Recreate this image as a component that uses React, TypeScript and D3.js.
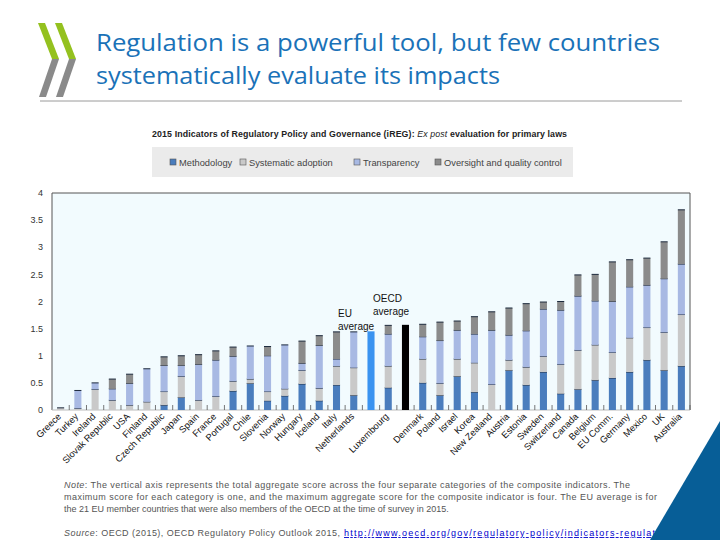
import React from "react";
import * as d3 from "d3";

const categories = ["Greece","Turkey","Ireland","Slovak Republic","USA","Finland","Czech Republic","Japan","Spain","France","Portugal","Chile","Slovenia","Norway","Hungary","Iceland","Italy","Netherlands","EU average","Luxembourg","OECD average","Denmark","Poland","Israel","Korea","New Zealand","Austria","Estonia","Sweden","Switzerland","Canada","Belgium","EU Comm.","Germany","Mexico","UK","Australia"];
const methodology =        [0,0,0,0,0,0,0.09,0.23,0,0,0.35,0.49,0.17,0.26,0.48,0.17,0.46,0.27,0,0.41,0,0.5,0.27,0.62,0.33,0,0.73,0.46,0.7,0.3,0.38,0.55,0.59,0.7,0.92,0.73,0.81];
const systematicAdoption = [0.04,0.03,0.38,0.18,0.09,0.15,0.25,0.39,0.18,0.25,0.18,0.08,0.17,0.13,0.25,0.23,0.35,0.51,0,0.4,0,0.44,0.22,0.32,0.54,0.47,0.19,0.33,0.29,0.54,0.72,0.65,0.47,0.63,0.6,0.7,0.95];
const transparency =       [0,0.33,0.12,0.21,0.4,0.61,0.48,0.2,0.66,0.67,0.46,0.61,0.66,0.81,0.13,0.79,0.13,0.66,0,0.59,0,0.41,0.79,0.53,0.53,1.0,0.46,0.67,0.87,1.0,1.0,0.81,0.94,0.94,0.78,0.99,0.93];
const oversight =          [0,0,0,0.18,0.17,0,0.16,0.18,0.18,0.17,0.17,0,0.17,0,0.41,0.18,0.5,0,0,0.16,0,0.23,0.34,0.17,0.32,0.34,0.5,0.5,0.13,0.16,0.39,0.49,0.73,0.5,0.5,0.68,1.0];
const averageLabels = ["EU average", "OECD average"];
const averageValues = [1.45, 1.57];
const yTicks = [0, 0.5, 1, 1.5, 2, 2.5, 3, 3.5, 4];
const seriesKeys = ["m", "s", "t", "o"];
const seriesNames = ["Methodology", "Systematic adoption", "Transparency", "Oversight and quality control"];
const seriesColors = ["#4a7dbd", "#c9c9c9", "#a8b9e3", "#8b8b8b"];
const averageColors = ["#3a93f0", "#000000"];

const noteLines = [
  "The vertical axis represents the total aggregate score across the four separate categories of the composite indicators. The",
  "maximum score for each category is one, and the maximum aggregate score for the composite indicator is four. The EU average is for",
  "the 21 EU member countries that were also members of the OECD at the time of survey in 2015.",
];

export default function App() {
  const W = 720, H = 540;
  const plot = { left: 52, right: 690, top: 193, bottom: 410 };
  const x = d3.scaleBand<string>().domain(categories).range([plot.left, plot.right]).paddingInner(0.59).paddingOuter(0.295);
  const y = d3.scaleLinear().domain([0, 4]).range([plot.bottom, plot.top]);
  const rows = categories.map((c, i) => ({ category: c, m: methodology[i], s: systematicAdoption[i], t: transparency[i], o: oversight[i] }));
  const stacked = d3.stack<any>().keys(seriesKeys)(rows);
  const bw = x.bandwidth();
  const step = x.step();
  const font = "'Liberation Sans', Arial, sans-serif";

  const legendX = [170, 240, 354, 435];

  return (
    <svg width={W} height={H} style={{ position: "absolute", left: 0, top: 0, background: "#fff" }} fontFamily={font}>
      {/* logo */}
      {[0, 17].map((dx, i) => (
        <g key={i}>
          <polygon points={`${38 + dx},23 ${45 + dx},23 ${59 + dx},59 ${52 + dx},59`} fill="#94c11f" />
          <polygon points={`${52 + dx},59 ${59 + dx},59 ${46 + dx},97 ${39 + dx},97`} fill="#8a8a8a" />
        </g>
      ))}
      <text x={96} y={51} fontFamily="'Open Sans', sans-serif" fontSize={24} fill="#1a72b8" textLength={564} lengthAdjust="spacingAndGlyphs">Regulation is a powerful tool, but few countries</text>
      <text x={96} y={84} fontFamily="'Open Sans', sans-serif" fontSize={24} fill="#1a72b8" textLength={404} lengthAdjust="spacingAndGlyphs">systematically evaluate its impacts</text>
      <line x1={40} x2={682} y1={101} y2={101} stroke="#9a9a9a" strokeWidth={1} />

      {/* chart title */}
      <text x={152} y={137} fontSize={8.8} fontWeight="bold" fill="#222" textLength={415} lengthAdjust="spacing">
        2015 Indicators of Regulatory Policy and Governance (iREG): <tspan fontStyle="italic" fontWeight="normal">Ex post</tspan> evaluation for primary laws
      </text>

      {/* legend */}
      <rect x={152} y={147} width={421} height={30} fill="#ebebeb" />
      {seriesNames.map((n, i) => (
        <g key={n}>
          <rect x={legendX[i]} y={159} width={6} height={6} fill={seriesColors[i]} stroke="#555" strokeWidth={0.6} />
          <text x={legendX[i] + 9} y={165.5} fontSize={9.3} fill="#444">{n}</text>
        </g>
      ))}

      {/* plot area */}
      <rect x={plot.left} y={plot.top} width={plot.right - plot.left} height={plot.bottom - plot.top} fill="#f2fbfe" />
      <line x1={plot.left} x2={plot.right} y1={plot.top} y2={plot.top} stroke="#555" strokeWidth={1} />
      <line x1={plot.left} x2={plot.left} y1={plot.top} y2={plot.bottom} stroke="#555" strokeWidth={1} />
      <line x1={plot.right} x2={plot.right} y1={plot.top} y2={plot.bottom} stroke="#555" strokeWidth={1} />
      <line x1={plot.left} x2={plot.right} y1={plot.bottom} y2={plot.bottom} stroke="#bbb" strokeWidth={1} />
      {yTicks.map((t) => (
        <text key={t} x={43} y={y(t)} dy="0.35em" textAnchor="end" fontSize={9} fill="#333">{t}</text>
      ))}
      {categories.map((c, i) => (
        <line key={"tk" + i} x1={plot.left + (i + 1) * step} x2={plot.left + (i + 1) * step} y1={plot.bottom - 5} y2={plot.bottom} stroke="#555" strokeWidth={0.8} />
      ))}

      {stacked.map((series, si) => (
        <g key={series.key}>
          {series.map((d: any) => {
            const h = y(d[0]) - y(d[1]);
            if (h <= 0.01) return null;
            const cx = x(d.data.category)!;
            return (
              <g key={d.data.category}>
                <rect x={cx} y={y(d[1])} width={bw} height={h} fill={seriesColors[si]} />
                <line x1={cx} x2={cx + bw} y1={y(d[1])} y2={y(d[1])} stroke="#1d2a3d" strokeWidth={1} />
              </g>
            );
          })}
        </g>
      ))}
      {averageLabels.map((a, i) => (
        <rect key={a} x={x(a)!} y={y(averageValues[i])} width={bw} height={y(0) - y(averageValues[i])} fill={averageColors[i]} />
      ))}

      {/* annotations */}
      <text x={338} y={317} fontSize={10} fill="#111">EU</text>
      <text x={338} y={330} fontSize={10} fill="#111">average</text>
      <text x={373} y={302} fontSize={10} fill="#111">OECD</text>
      <text x={373} y={315} fontSize={10} fill="#111">average</text>

      {/* x labels */}
      {categories.map((c) =>
        averageLabels.includes(c) ? null : (
          <text key={"xl" + c} transform={`translate(${x(c)! + bw / 2 + 1},417) rotate(-45)`} textAnchor="end" fontSize={9.3} fill="#111">{c}</text>
        )
      )}

      {/* notes */}
      <text x={64} y={488} fontSize={9} fill="#555" textLength={566} lengthAdjust="spacing"><tspan fontStyle="italic">Note</tspan>: {noteLines[0]}</text>
      <text x={64} y={500} fontSize={9} fill="#555" textLength={593} lengthAdjust="spacing">{noteLines[1]}</text>
      <text x={64} y={512} fontSize={9} fill="#555">{noteLines[2]}</text>
      <text x={64} y={536} fontSize={9} fill="#555" textLength={276} lengthAdjust="spacing">
        <tspan fontStyle="italic">Source</tspan>: OECD (2015), OECD Regulatory Policy Outlook 2015,
      </text>
      <text x={344} y={536} fontSize={9} fill="#0000cc" textDecoration="underline" textLength={366} lengthAdjust="spacing">http://www.oecd.org/gov/regulatory-policy/indicators-regulatory-policy/</text>

      <polygon points="720,421 720,540 650,540" fill="#075e97" />
    </svg>
  );
}
